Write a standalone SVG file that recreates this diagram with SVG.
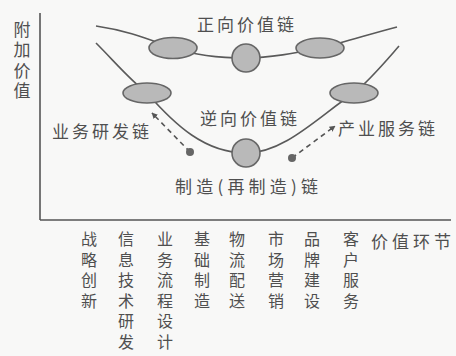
<svg xmlns="http://www.w3.org/2000/svg" width="456" height="356" viewBox="0 0 456 356">
<defs>
<style>
.t{font-family:"Noto Sans CJK SC","Noto Sans CJK JP",sans-serif;fill:#4f4f4f;}
.lbl{font-size:17px;letter-spacing:3px;}
.col{font-size:16px;letter-spacing:4.5px;writing-mode:vertical-rl;}
.ax{stroke:#555;stroke-width:1.6;fill:none;}
.cv{stroke:#5a5a5a;stroke-width:1.6;fill:none;}
.nd{fill:#b9b9b9;stroke:#666;stroke-width:1.6;}
.dash{stroke:#555;stroke-width:1.6;fill:none;stroke-dasharray:5 4;}
.dot{fill:#666;}
</style>
<marker id="ah" viewBox="0 0 10 10" refX="9" refY="5" markerWidth="6" markerHeight="6" orient="auto" markerUnits="userSpaceOnUse">
<path d="M0,0 L10,5 L0,10 Z" fill="#555"/>
</marker>
</defs>
<rect width="456" height="356" fill="#f8f8f7"/>

<g id="axes">
<line class="ax" x1="40" y1="13" x2="40" y2="220"/>
<line class="ax" x1="40" y1="220" x2="451" y2="220"/>
<text class="t" font-size="17" x="22" y="21" letter-spacing="3.5" style="writing-mode:vertical-rl">附加价值</text>
<text class="t" font-size="17" x="371" y="248" letter-spacing="4">价值环节</text>
</g>

<g id="connectors">
<path class="cv" d="M96,26 C130,31 150,40 173,48 C200,57 225,58 246,58 C270,58 295,53 320,48 C345,42 370,34 397,27"/>
<path class="cv" d="M96,43 C115,62 130,80 147,93 C175,125 205,153 246,153 C285,153 320,115 354,93 C370,80 385,62 399,46"/>
<line class="dash" x1="190" y1="152" x2="152" y2="113" marker-end="url(#ah)"/>
<line class="dash" x1="292" y1="158" x2="335" y2="126" marker-end="url(#ah)"/>
</g>

<g id="forward-left"><ellipse class="nd" cx="173" cy="48" rx="24" ry="10.5"/></g>
<g id="forward-mid"><circle class="nd" cx="246" cy="58" r="14"/></g>
<g id="forward-right"><ellipse class="nd" cx="320" cy="48" rx="24" ry="10"/></g>
<g id="reverse-left"><ellipse class="nd" cx="147" cy="93" rx="24" ry="10"/></g>
<g id="reverse-mid"><circle class="nd" cx="246" cy="153" r="14"/></g>
<g id="reverse-right"><ellipse class="nd" cx="354" cy="93" rx="24" ry="10"/></g>
<g id="dot-left"><circle class="dot" cx="190" cy="152" r="4"/></g>
<g id="dot-right"><circle class="dot" cx="292" cy="158" r="4"/></g>

<g id="labels">
<text class="t lbl" x="197" y="31">正向价值链</text>
<text class="t lbl" x="200" y="125">逆向价值链</text>
<text class="t lbl" x="52" y="138">业务研发链</text>
<text class="t lbl" x="338" y="135">产业服务链</text>
<text class="t" font-size="17" x="175" y="193" textLength="143" lengthAdjust="spacing">制造(再制造)链</text>
</g>

<g id="stages">
<text class="t col" x="89" y="231">战略创新</text>
<text class="t col" x="126" y="231">信息技术研发</text>
<text class="t col" x="165" y="231">业务流程设计</text>
<text class="t col" x="202" y="231">基础制造</text>
<text class="t col" x="237" y="231">物流配送</text>
<text class="t col" x="276" y="231">市场营销</text>
<text class="t col" x="312" y="231">品牌建设</text>
<text class="t col" x="351" y="231">客户服务</text>
</g>
</svg>
